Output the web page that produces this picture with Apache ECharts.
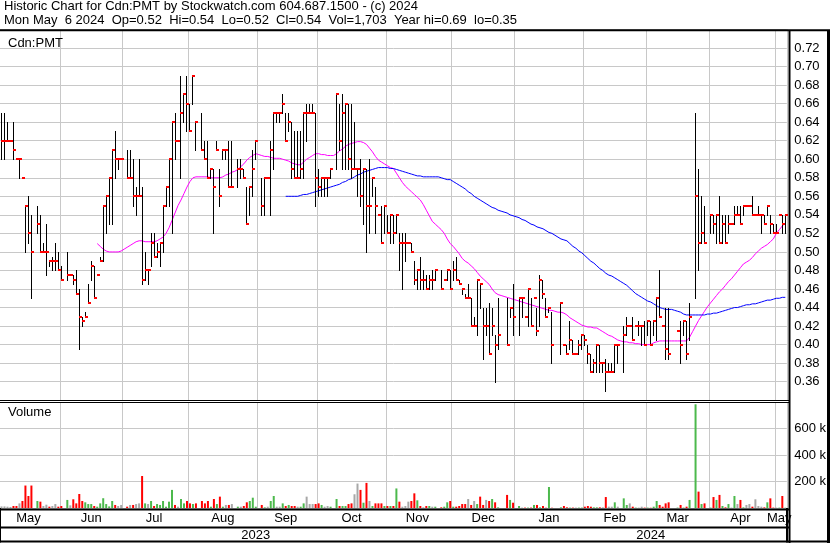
<!DOCTYPE html>
<html><head><meta charset="utf-8">
<script src="https://cdn.jsdelivr.net/npm/echarts/dist/echarts.min.js"></script>
<style>html,body{margin:0;padding:0;background:#fff}#c{width:830px;height:543px}</style>
</head><body><div id="c"></div>
<script>
// ---- categories: every weekday from first to last session shown ----
const CAT_START = '2023-05-04';
const CAT_END = '2024-05-06';
const MONTH_NAMES = ['Jan','Feb','Mar','Apr','May','Jun','Jul','Aug','Sep','Oct','Nov','Dec'];

// ---- daily bars, in cents (null = no trade / holiday) ----
const highCents = [65,
65,64,62,64,60,60,58,55,56,54,
null,55,54,51,53,49,49.5,51,50,48.5,
null,50,47.5,47.5,48,46,43,43.5,46.5,49,
48.5,47.5,49.5,55,56,58,61,63,60,60,
null,61,61,60,57,60,57,50,48,52,
52,51,51,55,57,60,64,65,62,69,
67,69,66,69,64,null,65,62,62,59,
59,62,59,61,61,62,62,null,60,60,
59,57,57,61,62,null,58,58,58,62,
65,65,65,67,65,65,64,63,63,63,
65,66,66,66,65,59,58,58,58,59,
null,67,66,67,66,66,66,64,59,60,
59,59,60,58,57,54,55,55,54,54,
54,54,52,52,52,51,51,49,48,49.5,
48,47.5,47.5,48,48,null,48,47,48,48,
49,49.5,47,46,45.5,46.5,45,43,47,46.5,
44,44,44.5,44,41,45,null,null,45,44,
46.5,null,45,45,43,46,45,45,44,47.5,
47,45,44,43.5,null,null,44.5,40,40,42.5,
40.5,39,40.5,41,41,40,39,38.5,40,40,
38,38.5,38,38,40,40,null,42,43,42,
43,42,42.5,42,42.5,42.5,42.5,42.5,45,48,
42,44,44,null,null,41.5,42.5,42.5,42.5,44.5,
null,65,59,56,55,null,54,54,54,56,
54,54,54,53,55,55,55,55,55,55,
56,54,55,54,54,55,54,53,53,54,
54,54];
const lowCents = [60,
60,62,62,60,60,58,58,50,51,45,
null,52,50,50,47.5,48.5,48,48,48,47,
null,47,47.5,46.5,45.5,39.5,42,43,44.5,47,
45,47.5,49,49,52,53,53,58,59,60,
null,58,58,55,54,56,46.5,47,46.5,48.5,
49.5,49.5,48.5,50,55,55,52,60,62,58,
64,63,63,66,61,null,61,60,58,58,
52,61,55,60,60,57,57,null,57,58,
58,53,54,56,60,null,54,54,58,54,
59,64,64,65,62,63,58,58,58,58,
58,62,65,65,55,56,56,56,56,58,
null,59,61,59,59,59,58,59,56,55,
53,50,52,56,52,54,51,52,52,51,
51,52,48,46,49,51,50,46.5,46,46,
46,46,46,46,47,null,46,47,47,46,
47,47,46.5,45.5,45,45,42,42,41,44,
38.5,41,39,41,36,39.5,null,null,40,43,
41,null,41,43,43,42,42,45,41,42,
45,43,43.5,38,null,null,39,40,39,39.5,
39,39,39,39.5,40,38,37,37,37,37,
37,35,37,37,37,38,null,37,41,42,
40.5,42,41,40,40,41,40,41,40.5,43,
42,38.5,38.5,null,null,41.5,38,41,38.5,40.5,
null,45,48,51,51,null,52,52,51,51,
51,51,52,53,53,54,53,54,55,55,
54,54,54,52,53,54,52,52,52,54,
52,52];
const closeCents = [62,
62,62,62,61,60,60,58,55,52,50,
null,53,50,50,50,49,49,49,48,47,
null,47.5,47.5,47,45.5,43,42.5,43,44.5,48.5,
45,47.5,49,55,56,58,61,60,60,60,
null,58,58,56,56,56,47,48,48,51,
49.5,50,51,55,57,60,64,62,62,65,
67,66,63,69,64,null,61,60,58,59,
57,61,56,61,61,57,57,null,59,59,
58,53,57,59,62,null,55,58,58,61,
65,65,65,66,62,64,59,58,58,59,
65,65,65,65,58,57,58,58,58,59,
null,67,62,65,66,60,59,59,59,56,
59,55,55,58,55,54,51,55,52,54,
52,54,51,51,51,51,50,47,48,47,
47,46,47,47,48,null,46,47,48,46,
48,47,46.5,46,45,45,42,42,47,46.5,
42,42,39,42,40,41,null,null,40,44,
43,null,45,45,43,46,42,45,41.5,47,
45.5,43,44,40,null,null,44.5,40,39,40.5,
39,39,40,41,40.5,39,37,38,40,38,
38,37,37,37,40,40,null,41,42,42,
40.5,42,42,42,40,42.5,40,42.5,45,43,
42,39.5,39,null,null,41.5,40,42.5,39,43,
null,56,51,52,51,null,54,53,54,51,
53,51,53,53,54,54,53,55,55,55,
54,54,54,54,53,55,53,52,52,54,
53,54];

// ---- volume, thousands of shares ----
const volumeK = [12,
12,10,8,15,15,35,53,170,91,170,
0,53,48,15,25,10,15,30,10,15,
0,61,20,66,35,106,53,43,30,30,
15,10,35,74,30,12,53,23,15,23,
0,10,23,23,30,35,242,35,30,53,
15,30,23,53,10,48,137,23,10,68,
35,53,35,30,35,0,53,35,53,10,
68,30,86,10,23,23,30,0,10,10,
15,43,53,78,10,0,23,5,10,53,
91,10,10,35,15,23,15,15,10,10,
35,86,30,30,30,35,23,10,15,10,
0,68,15,15,15,30,35,104,185,137,
40,190,53,15,35,35,35,15,15,15,
15,148,48,10,15,48,53,111,58,15,
5,15,15,10,10,0,5,10,43,53,
10,10,15,30,30,68,23,53,30,86,
23,61,53,68,43,5,0,0,99,61,
40,0,15,3,3,3,3,23,23,5,
15,2,159,2,0,0,5,15,5,3,
3,3,3,3,10,15,10,5,5,5,
5,83,10,10,43,10,0,73,23,35,
10,3,3,10,3,3,2,10,53,23,
10,35,43,0,0,3,23,3,10,61,
0,785,124,30,35,0,3,83,61,99,
15,5,30,3,91,30,61,5,23,30,
10,66,15,10,5,43,73,3,3,3,
91,2];

// ---- moving averages, in cents ----
const maFastStart = 32;   // magenta line
const maFastCents = [
50.9,50.6,50.3,50.1,50.0,50.0,50.0,50.0,50.1,50.3,
50.5,50.7,50.9,51.1,51.2,51.2,51.1,51.1,51.1,51.1,
51.2,51.4,51.6,52.0,52.6,53.4,54.2,55.0,55.6,56.3,
57.0,57.6,58.0,58.1,58.1,58.1,58.1,58.1,58.0,58.0,
58.0,58.0,58.1,58.3,58.4,58.6,58.7,58.9,59.2,59.5,
59.9,60.2,60.4,60.6,60.5,60.4,60.3,60.3,60.2,60.1,
60.1,60.1,60.0,59.9,59.8,59.6,59.5,59.4,59.4,59.7,
60.0,60.2,60.4,60.6,60.6,60.5,60.5,60.4,60.4,60.4,
60.6,60.9,61.1,61.4,61.6,61.7,61.8,61.9,61.9,61.8,
61.6,61.2,60.8,60.3,59.9,59.7,59.5,59.3,59.1,59.0,
58.5,58.0,57.5,57.1,56.8,56.5,56.2,55.9,55.6,55.1,
54.5,53.9,53.3,53.0,52.7,52.4,52.0,51.4,50.9,50.6,
50.2,49.8,49.3,49.0,48.8,48.5,48.2,47.8,47.4,47.1,
46.8,46.5,46.0,45.6,45.4,45.3,45.2,45.1,45.0,44.9,
44.8,44.7,44.6,44.5,44.4,44.3,44.2,44.1,44.0,43.9,
43.8,43.7,43.7,43.6,43.5,43.5,43.4,43.2,42.9,42.7,
42.5,42.3,42.1,42.0,41.9,41.9,41.8,41.8,41.6,41.4,
41.2,41.0,40.9,40.7,40.5,40.4,40.3,40.3,40.2,40.2,
40.1,40.1,40.0,40.0,40.0,40.0,40.2,40.3,40.4,40.4,
40.4,40.4,40.4,40.4,40.4,40.4,40.4,40.4,40.8,41.4,
42.0,42.6,43.1,43.6,44.1,44.5,44.9,45.3,45.7,46.0,
46.4,46.8,47.1,47.5,47.9,48.3,48.7,48.9,49.1,49.4,
49.8,50.1,50.4,50.6,50.8,51.1,51.4,52.0,52.4,52.8,53.1];
const maSlowStart = 95;   // blue line
const maSlowCents = [
56.0,56.0,56.0,56.0,56.0,56.1,56.2,56.2,56.3,56.4,
56.5,56.6,56.7,56.8,56.9,57.0,57.1,57.2,57.3,57.5,
57.6,57.8,57.9,58.1,58.3,58.4,58.6,58.7,58.8,58.9,
59.0,59.1,59.1,59.1,59.1,59.0,59.0,58.9,58.8,58.7,
58.6,58.5,58.4,58.3,58.2,58.2,58.1,58.1,58.1,58.1,
58.1,58.1,58.0,57.9,57.8,57.8,57.6,57.4,57.2,57.0,
56.8,56.5,56.3,56.0,55.8,55.6,55.4,55.2,55.0,54.8,
54.7,54.5,54.4,54.3,54.2,54.0,53.9,53.8,53.7,53.5,
53.4,53.2,53.0,52.9,52.7,52.6,52.5,52.3,52.1,52.0,
51.8,51.6,51.4,51.3,51.2,50.9,50.6,50.4,50.1,49.9,
49.6,49.3,49.0,48.8,48.5,48.2,48.0,47.7,47.5,47.4,
47.2,47.0,46.8,46.6,46.4,46.1,45.8,45.5,45.3,45.1,
44.9,44.7,44.6,44.4,44.2,44.0,43.9,43.8,43.8,43.8,
43.7,43.6,43.5,43.3,43.2,43.2,43.2,43.2,43.2,43.2,
43.2,43.3,43.3,43.4,43.4,43.5,43.6,43.7,43.8,43.9,
44.0,44.0,44.1,44.2,44.3,44.3,44.4,44.4,44.5,44.6,
44.7,44.8,44.8,44.9,45.0,45.0,45.1,45.1];

const TITLE1 = 'Historic Chart for Cdn:PMT by Stockwatch.com 604.687.1500 - (c) 2024';
const TITLE2 = 'Mon May  6 2024  Op=0.52  Hi=0.54  Lo=0.52  Cl=0.54  Vol=1,703  Year hi=0.69  lo=0.35';
const SYMBOL_LABEL = 'Cdn:PMT';
const VOLUME_LABEL = 'Volume';
const VOLUME_TICK_LABELS = {200: '200 k', 400: '400 k', 600: '600 k'};

// ---------------------------------------------------------------
function weekdays(a, b) {
  const out = [];
  let d = new Date(a + 'T00:00:00Z');
  const end = new Date(b + 'T00:00:00Z');
  while (d <= end) {
    const w = d.getUTCDay();
    if (w !== 0 && w !== 6) out.push(d.toISOString().slice(0, 10));
    d = new Date(d.getTime() + 86400000);
  }
  return out;
}
const dates = weekdays(CAT_START, CAT_END);
const N = dates.length;

// month boundaries (a 1st falling on a weekend is marked on the Friday before)
const bounds = [0];
for (let i = 1; i < N; i++) {
  if (dates[i].slice(5, 7) !== dates[i - 1].slice(5, 7)) {
    bounds.push(+dates[i].slice(8) === 1 ? i : i - 1);
  }
}
bounds.push(N);
const splitSet = new Set(bounds.slice(1, -1));
const monthLabelSet = new Set();
for (let k = 0; k < bounds.length - 1; k++) monthLabelSet.add(Math.floor((bounds[k] + bounds[k + 1] - 1) / 2));
let yearIdx = 0;
for (let i = 1; i < N; i++) if (dates[i].slice(0, 4) !== dates[i - 1].slice(0, 4)) yearIdx = i;
const yearLabelSet = new Set([Math.floor((yearIdx - 1) / 2), Math.floor((yearIdx + N - 1) / 2)]);

const ohlc = [];
for (let i = 0; i < N; i++) {
  if (highCents[i] == null) continue;
  ohlc.push([i, highCents[i] / 100, lowCents[i] / 100, closeCents[i] / 100]);
}
const maFast = dates.map((d, i) => i >= maFastStart ? maFastCents[i - maFastStart] / 100 : null);
const maSlow = dates.map((d, i) => i >= maSlowStart ? maSlowCents[i - maSlowStart] / 100 : null);

const UP = '#4cb94c', DOWN = '#ff0000', FLAT = '#a8a8a8';
let prev = null;
const volData = volumeK.map((v, i) => {
  const c = closeCents[i];
  let col = FLAT;
  if (c != null && prev != null) col = c > prev ? UP : (c < prev ? DOWN : FLAT);
  if (c != null) prev = c;
  return {value: v, itemStyle: {color: col}};
});

const FONT = "'Liberation Sans', Arial, sans-serif";
const GRID_GRAY = '#c8c8c8';
const txt = (size) => ({fontSize: size, fontWeight: 'normal', color: '#000', fontFamily: FONT});

const chart = echarts.init(document.getElementById('c'), null, {renderer: 'canvas'});
const hline = (y, x1, x2, w) => ({type: 'line', silent: true, z: 100, shape: {x1: x1, y1: y, x2: x2, y2: y}, style: {stroke: '#000', lineWidth: w}});
const vline = (x, y1, y2, w) => ({type: 'line', silent: true, z: 100, shape: {x1: x, y1: y1, x2: x, y2: y2}, style: {stroke: '#000', lineWidth: w}});

chart.setOption({
  animation: false,
  backgroundColor: '#fff',
  title: [
    {text: TITLE1, left: 4, top: 0, padding: 0, textStyle: txt(13)},
    {text: TITLE2, left: 4, top: 14, padding: 0, textStyle: txt(13)},
    {text: SYMBOL_LABEL, left: 8, top: 37, padding: 0, textStyle: txt(13)},
    {text: VOLUME_LABEL, left: 8, top: 406, padding: 0, textStyle: txt(13)}
  ],
  grid: [
    {left: -2.2, right: 43.2, top: 29.45, bottom: 142.75},
    {left: -2.2, right: 43.2, top: 402.3, bottom: 35}
  ],
  xAxis: [
    {gridIndex: 0, type: 'category', data: dates, boundaryGap: true,
     axisLine: {show: false}, axisTick: {show: false}, axisLabel: {show: false},
     splitLine: {show: true, interval: (i) => splitSet.has(i), lineStyle: {color: GRID_GRAY, width: 1}}},
    {gridIndex: 1, type: 'category', data: dates, boundaryGap: true, position: 'bottom',
     axisLine: {show: false},
     axisTick: {show: true, interval: (i) => i === yearIdx, length: 19, lineStyle: {color: '#000', width: 2}},
     axisLabel: {show: true, interval: (i) => monthLabelSet.has(i), margin: 4, ...txt(13),
                 formatter: (v) => MONTH_NAMES[+v.slice(5, 7) - 1]},
     splitLine: {show: true, interval: (i) => splitSet.has(i), lineStyle: {color: GRID_GRAY, width: 1}}},
    {gridIndex: 1, type: 'category', data: dates, boundaryGap: true, position: 'bottom', offset: 19.5,
     axisLine: {show: false},
     axisTick: {show: true, interval: (i) => i === yearIdx, length: 15, lineStyle: {color: '#000', width: 2}},
     axisLabel: {show: true, interval: (i) => yearLabelSet.has(i), margin: 1, ...txt(13),
                 formatter: (v) => v.slice(0, 4)},
     splitLine: {show: false}}
  ],
  yAxis: [
    {gridIndex: 0, type: 'value', position: 'right', min: 0.34, max: 0.74, interval: 0.02, offset: 2.5,
     axisLine: {show: false}, axisTick: {show: false},
     axisLabel: {margin: 5, ...txt(13), formatter: (v) => (v > 0.355 && v < 0.725) ? v.toFixed(2) : ''},
     splitLine: {show: true, lineStyle: {color: GRID_GRAY, width: 1}}},
    {gridIndex: 1, type: 'value', position: 'right', min: 0, max: 800, interval: 200, offset: 2.5,
     axisLine: {show: false}, axisTick: {show: false},
     axisLabel: {margin: 5, ...txt(13), formatter: (v) => VOLUME_TICK_LABELS[v] || ''},
     splitLine: {show: true, lineStyle: {color: GRID_GRAY, width: 1}}}
  ],
  series: [
    {type: 'line', name: 'maFast', xAxisIndex: 0, yAxisIndex: 0, data: maFast, showSymbol: false, symbol: 'none',
     lineStyle: {color: '#ff00ff', width: 1}, z: 2, silent: true},
    {type: 'line', name: 'maSlow', xAxisIndex: 0, yAxisIndex: 0, data: maSlow, showSymbol: false, symbol: 'none',
     lineStyle: {color: '#0000ff', width: 1}, z: 2, silent: true},
    {type: 'custom', name: 'bars', xAxisIndex: 0, yAxisIndex: 0, data: ohlc, z: 3, silent: true,
     encode: {x: 0, y: [1, 2, 3]},
     renderItem: function (params, api) {
       const i = api.value(0);
       const pH = api.coord([i, api.value(1)]);
       const pL = api.coord([i, api.value(2)]);
       const pC = api.coord([i, api.value(3)]);
       const x = Math.floor(pH[0]);
       const children = [];
       if (pL[1] - pH[1] > 0.5) {
         children.push({type: 'rect', shape: {x: x, y: Math.round(pH[1]), width: 1, height: Math.max(1, Math.round(pL[1]) - Math.round(pH[1]) + 1)}, style: {fill: '#000'}});
       }
       children.push({type: 'rect', shape: {x: x, y: Math.round(pC[1]) - 1, width: 3, height: 2}, style: {fill: '#ff0000'}});
       return {type: 'group', children: children};
     }},
    {type: 'bar', name: 'volume', xAxisIndex: 1, yAxisIndex: 1, data: volData, barWidth: 2, silent: true}
  ],
  graphic: {elements: [
    hline(30.3, 0, 830, 2),
    hline(400.5, 0, 790, 1),
    hline(402.5, 0, 790, 1),
    hline(509.5, 0, 790, 2),
    hline(527.5, 0, 790, 2),
    hline(541.5, 0, 830, 2),
    vline(789.5, 30, 543, 2),
    vline(828.5, 30, 543, 3)
  ]}
});
</script></body></html>
